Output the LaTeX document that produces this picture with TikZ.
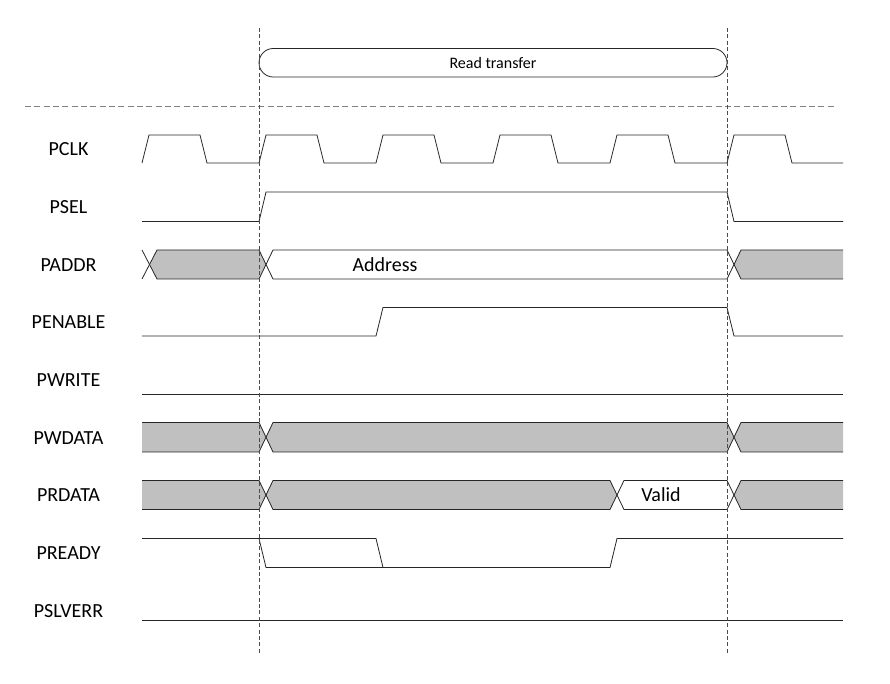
\documentclass[tikz,border=0pt]{standalone}
\usepackage{fontspec}
\setmainfont{Carlito}
\definecolor{busgrey}{RGB}{192,192,192}
\begin{document}
\begin{tikzpicture}[x=0.75pt,y=-0.75pt]
\tikzset{
  wave/.style={draw=black!85, line width=0.6pt},
  bus/.style={fill=busgrey},
  lbl/.style={font=\fontsize{15}{18}\selectfont, inner sep=0pt},
  edgeline/.style={draw=black!70, line width=0.5pt, dash pattern=on 3pt off 1.8pt},
  splitline/.style={draw=black!50, line width=0.6pt, dash pattern=on 4.5pt off 2.5pt},
  phase/.style={draw=black!85, line width=0.6pt, rounded corners=10.7pt, minimum width=351pt, minimum height=21.4pt, inner sep=0pt, font=\fontsize{12}{14}\selectfont}
}
\useasboundingbox (0,0) rectangle (890,684);
\node[phase] (rt) at (493,62.75) {Read transfer};
\node[lbl] (pclk) at (68.5,149.5) {PCLK};
\node[lbl] (psel) at (68.5,207) {PSEL};
\node[lbl] (paddr) at (68.5,265) {PADDR};
\node[lbl] (penable) at (68.5,322.5) {PENABLE};
\node[lbl] (pwrite) at (68.5,380) {PWRITE};
\node[lbl] (pwdata) at (68.5,438) {PWDATA};
\node[lbl] (prdata) at (68.5,495.5) {PRDATA};
\node[lbl] (pready) at (68.5,553) {PREADY};
\node[lbl] (pslverr) at (68.5,611) {PSLVERR};
\draw[splitline] (25,106) -- (837,106);
\draw[wave] (142,163) -- (149,135) -- (200,135) -- (207,163) -- (259,163) -- (266,135) -- (317,135) -- (324,163) -- (376,163) -- (383,135) -- (434,135) -- (441,163) -- (493,163) -- (500,135) -- (551,135) -- (558,163) -- (610,163) -- (617,135) -- (668,135) -- (675,163) -- (727,163) -- (734,135) -- (785,135) -- (792,163) -- (843,163);
\draw[wave] (142,221.5) -- (259,221.5) -- (266,192) -- (727,192) -- (734,221.5) -- (843,221.5);
\fill[bus] (149.5,264.5) -- (157,250) -- (259,250) -- (266,264.5) -- (259,279) -- (157,279) -- cycle;
\fill[bus] (734,264.5) -- (741,250) -- (843,250) -- (843,279) -- (741,279) -- cycle;
\draw[wave] (142,250) -- (157,279) -- (259,279) -- (273,250) -- (727,250) -- (741,279) -- (843,279);
\draw[wave] (142,279) -- (157,250) -- (259,250) -- (273,279) -- (727,279) -- (741,250) -- (843,250);
\node[lbl] (addr) at (385,264.5) {Address};
\draw[wave] (142,336) -- (376,336) -- (383,307.5) -- (727,307.5) -- (734,336) -- (843,336);
\draw[wave] (142,394) -- (843,394);
\fill[bus] (142,422.5) -- (259,422.5) -- (266,437.25) -- (259,452) -- (142,452) -- cycle;
\fill[bus] (266,437.25) -- (273,422.5) -- (727,422.5) -- (734,437.25) -- (727,452) -- (273,452) -- cycle;
\fill[bus] (734,437.25) -- (741,422.5) -- (843,422.5) -- (843,452) -- (741,452) -- cycle;
\draw[wave] (142,422.5) -- (259,422.5) -- (273,452) -- (727,452) -- (741,422.5) -- (843,422.5);
\draw[wave] (142,452) -- (259,452) -- (273,422.5) -- (727,422.5) -- (741,452) -- (843,452);
\fill[bus] (142,480.5) -- (259,480.5) -- (266,495) -- (259,509.5) -- (142,509.5) -- cycle;
\fill[bus] (266,495) -- (273,480.5) -- (610,480.5) -- (617,495) -- (610,509.5) -- (273,509.5) -- cycle;
\fill[bus] (734,495) -- (741,480.5) -- (843,480.5) -- (843,509.5) -- (741,509.5) -- cycle;
\draw[wave] (142,480.5) -- (259,480.5) -- (273,509.5) -- (610,509.5) -- (624,480.5) -- (727,480.5) -- (741,509.5) -- (843,509.5);
\draw[wave] (142,509.5) -- (259,509.5) -- (273,480.5) -- (610,480.5) -- (624,509.5) -- (727,509.5) -- (741,480.5) -- (843,480.5);
\node[lbl] (valid) at (661,495) {Valid};
\draw[wave] (142,538.5) -- (259,538.5) -- (266,567.5) -- (610,567.5) -- (617,538.5) -- (843,538.5);
\draw[wave] (259,538.5) -- (376,538.5) -- (383,567.5);
\draw[wave] (142,620.5) -- (843,620.5);
\draw[edgeline] (259,28) -- (259,655);
\draw[edgeline] (727,28) -- (727,655);
\end{tikzpicture}
\end{document}
